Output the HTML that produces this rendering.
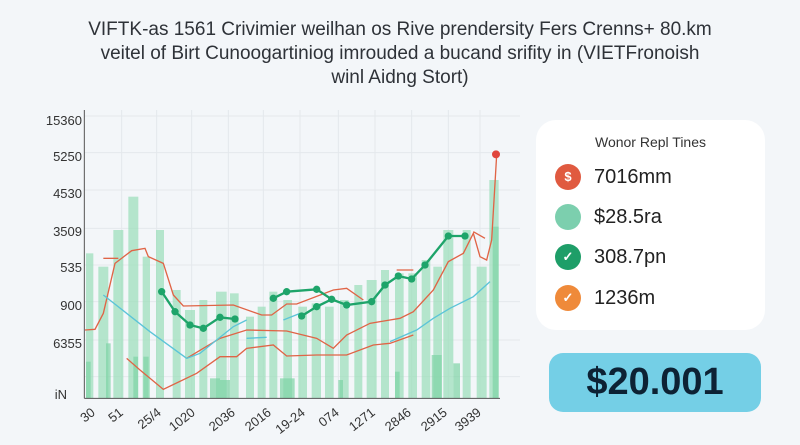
<!DOCTYPE html>
<html><head><meta charset="utf-8"><style>
body{margin:0;width:800px;height:445px;background:#f3f6f9;font-family:"Liberation Sans",sans-serif;overflow:hidden;position:relative}
.t{position:absolute;left:0;width:800px;text-align:center;color:#2e3238;font-size:19px;line-height:24px}
.card{position:absolute;left:536px;top:120px;width:229px;height:210px;background:#fff;border-radius:20px}
.row{position:absolute;left:19px;font-size:20px;color:#222;display:flex;align-items:center}
.ic{width:26px;height:26px;border-radius:50%;margin-right:13px;color:#fff;font-size:13px;text-align:center;line-height:26px;font-weight:bold}
.big{position:absolute;left:549px;top:353px;width:212px;height:59px;background:#74cfe6;border-radius:14px;text-align:center;font-size:38px;font-weight:bold;line-height:59px;color:#0d2234}
</style></head><body>
<div class="t" style="top:18px">VIFTK-as 1561 Crivimier weilhan os Rive prendersity Fers Crenns+ 80.km</div>
<div class="t" style="top:42px">veitel of Birt Cunoogartiniog imrouded a bucand srifity in (VIETFronoish</div>
<div class="t" style="top:66px">winl Aidng Stort)</div>
<svg width="800" height="445" style="position:absolute;left:0;top:0">
<g transform="translate(0,100) scale(0.33333)" fill="none">
<g stroke="#e4e8ec" stroke-width="3">
<line x1="253" y1="48" x2="1560" y2="48"/><line x1="253" y1="158" x2="1560" y2="158"/><line x1="253" y1="270" x2="1560" y2="270"/><line x1="253" y1="385" x2="1560" y2="385"/><line x1="253" y1="495" x2="1560" y2="495"/><line x1="253" y1="605" x2="1560" y2="605"/><line x1="253" y1="720" x2="1560" y2="720"/><line x1="253" y1="830" x2="1560" y2="830"/>
<line x1="365" y1="30" x2="365" y2="895"/><line x1="470" y1="30" x2="470" y2="895"/><line x1="575" y1="30" x2="575" y2="895"/><line x1="685" y1="30" x2="685" y2="895"/><line x1="790" y1="30" x2="790" y2="895"/><line x1="900" y1="30" x2="900" y2="895"/><line x1="1015" y1="30" x2="1015" y2="895"/><line x1="1125" y1="30" x2="1125" y2="895"/><line x1="1235" y1="30" x2="1235" y2="895"/><line x1="1345" y1="30" x2="1345" y2="895"/><line x1="1440" y1="30" x2="1440" y2="895"/>
</g>
<g fill="#9fe0bd" opacity="0.75">
<rect x="258" y="460" width="22" height="435"/><rect x="295" y="500" width="30" height="395"/><rect x="340" y="390" width="30" height="505"/><rect x="385" y="290" width="30" height="605"/><rect x="428" y="470" width="22" height="425"/><rect x="468" y="390" width="24" height="505"/><rect x="518" y="570" width="24" height="325"/><rect x="555" y="630" width="30" height="265"/><rect x="598" y="600" width="24" height="295"/><rect x="648" y="575" width="32" height="320"/><rect x="690" y="580" width="26" height="315"/><rect x="738" y="650" width="24" height="245"/><rect x="773" y="620" width="24" height="275"/><rect x="808" y="575" width="24" height="320"/><rect x="850" y="600" width="26" height="295"/><rect x="895" y="620" width="26" height="275"/><rect x="935" y="610" width="28" height="285"/><rect x="975" y="620" width="26" height="275"/><rect x="1020" y="600" width="26" height="295"/><rect x="1063" y="555" width="24" height="340"/><rect x="1100" y="540" width="30" height="355"/><rect x="1143" y="510" width="24" height="385"/><rect x="1185" y="520" width="26" height="375"/><rect x="1225" y="520" width="26" height="375"/><rect x="1265" y="480" width="26" height="415"/><rect x="1300" y="500" width="26" height="395"/><rect x="1330" y="390" width="30" height="505"/><rect x="1388" y="390" width="24" height="505"/><rect x="1430" y="500" width="30" height="395"/><rect x="1468" y="240" width="28" height="655"/>
</g>
<g fill="#7fd4a6" opacity="0.7">
<rect x="258" y="785" width="14" height="110"/><rect x="318" y="730" width="14" height="165"/><rect x="400" y="770" width="14" height="125"/><rect x="430" y="770" width="16" height="125"/><rect x="630" y="835" width="30" height="60"/><rect x="660" y="840" width="30" height="55"/><rect x="840" y="835" width="44" height="60"/><rect x="1015" y="840" width="14" height="55"/><rect x="1185" y="815" width="14" height="80"/><rect x="1295" y="765" width="30" height="130"/><rect x="1360" y="790" width="20" height="105"/><rect x="1478" y="380" width="18" height="515"/>
</g>
<g stroke="#555" stroke-width="3"><line x1="253" y1="30" x2="253" y2="895"/><line x1="253" y1="895" x2="1500" y2="895"/></g>
<g stroke="#e06446" stroke-width="4">
<polyline points="255,690 285,688 310,640 345,490 395,452 435,445 445,470 490,490 520,585 550,618 700,615 785,645 815,645 860,612 890,612 1000,570 1040,565 1090,600"/>
<polyline points="310,475 355,475"/>
<polyline points="380,775 420,810 490,868 590,820 660,770 710,770 740,745 820,735 860,768 950,765 1040,765 1120,735 1170,730 1240,705"/>
<polyline points="560,775 660,715 740,690 860,693 950,715 1000,745 1040,705 1110,670 1200,655 1240,635 1300,570 1345,485 1390,460 1420,400 1440,470 1460,480 1475,420 1490,165"/>
<polyline points="1190,510 1240,510"/><polyline points="1420,395 1455,415"/>
</g>
<g stroke="#5bc4d8" stroke-width="4">
<polyline points="310,585 450,695 560,775 600,760 700,680 740,660"/>
<polyline points="740,715 800,712"/><polyline points="850,660 900,640"/>
<polyline points="1170,725 1250,690 1300,655 1350,625 1420,590 1470,545"/>
</g>
<g stroke="#1ea46a" stroke-width="7" fill="#1ea46a">
<polyline fill="none" points="485,575 525,635 570,675 610,685 660,652 705,657"/>
<polyline fill="none" points="820,595 860,575 950,568 995,598 1040,615 1115,605 1155,555 1195,528 1235,537 1275,495 1345,408 1395,408"/>
<polyline fill="none" points="905,648 950,620 995,598"/>
<g stroke="none"><circle cx="485" cy="575" r="11"/><circle cx="525" cy="635" r="11"/><circle cx="570" cy="675" r="11"/><circle cx="610" cy="685" r="11"/><circle cx="660" cy="652" r="11"/><circle cx="705" cy="657" r="11"/><circle cx="820" cy="595" r="11"/><circle cx="860" cy="575" r="11"/><circle cx="950" cy="568" r="11"/><circle cx="995" cy="598" r="11"/><circle cx="1040" cy="615" r="11"/><circle cx="1115" cy="605" r="11"/><circle cx="1155" cy="555" r="11"/><circle cx="1195" cy="528" r="11"/><circle cx="1235" cy="537" r="11"/><circle cx="1275" cy="495" r="11"/><circle cx="1345" cy="408" r="11"/><circle cx="1395" cy="408" r="11"/><circle cx="905" cy="648" r="11"/><circle cx="950" cy="620" r="11"/></g>
</g>
<circle cx="1488" cy="163" r="12" fill="#e0453c"/>
</g>
<g font-size="13" fill="#333" text-anchor="end">
<text x="82" y="125">15360</text><text x="82" y="161">5250</text><text x="82" y="198">4530</text><text x="82" y="236">3509</text><text x="82" y="272">535</text><text x="82" y="310">900</text><text x="82" y="348">6355</text><text x="67" y="399">iN</text>
</g>
<g font-size="13" fill="#333" text-anchor="end">
<text transform="translate(96,414) rotate(-38)">30</text><text transform="translate(124,414) rotate(-38)">51</text><text transform="translate(162,414) rotate(-38)">25/4</text><text transform="translate(196,414) rotate(-38)">1020</text><text transform="translate(236,414) rotate(-38)">2036</text><text transform="translate(272,414) rotate(-38)">2016</text><text transform="translate(306,414) rotate(-38)">19-24</text><text transform="translate(340,414) rotate(-38)">074</text><text transform="translate(376,414) rotate(-38)">1271</text><text transform="translate(412,414) rotate(-38)">2846</text><text transform="translate(448,414) rotate(-38)">2915</text><text transform="translate(482,414) rotate(-38)">3939</text>
</g>
</svg>
<div class="card">
<div style="position:absolute;top:14px;width:100%;text-align:center;font-size:14px;color:#333">Wonor Repl Tines</div>
<div class="row" style="top:44px"><div class="ic" style="background:#e05a40">$</div>7016mm</div>
<div class="row" style="top:84px"><div class="ic" style="background:#7ccfae"></div>$28.5ra</div>
<div class="row" style="top:124px"><div class="ic" style="background:#1e9e68">✓</div>308.7pn</div>
<div class="row" style="top:165px"><div class="ic" style="background:#ef8a3a">✓</div>1236m</div>
</div>
<div class="big">$20.001</div>
</body></html>
